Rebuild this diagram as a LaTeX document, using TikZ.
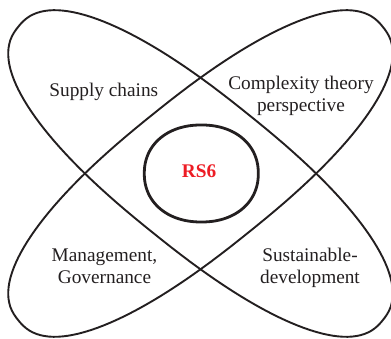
\documentclass[tikz,border=0pt]{standalone}
\usepackage{fontspec}
\setmainfont{Liberation Serif}
\definecolor{ink}{RGB}{35,31,32}
\definecolor{rsred}{RGB}{237,28,36}
\begin{document}
\begin{tikzpicture}[x=1pt,y=1pt,
  petal/.style={draw=ink, line width=1.9pt, line join=round},
  core/.style={draw=ink, line width=2.8pt, line join=round},
  lbl/.style={text=ink, font=\fontsize{19.3}{22}\selectfont, align=center, inner sep=0pt},
  hub/.style={text=rsred, font=\fontsize{19.3}{22}\selectfont\bfseries, inner sep=0pt}]
\useasboundingbox (0,0) rectangle (391,339);
\coordinate (c) at (200.5,165.5);
% two blunt-ended petals (superellipses)
\draw[petal, shift={(c)}, rotate=-38.8]
  plot[domain=1.25:358.75, samples=144, variable=\t]
  ({234*sign(cos(\t))*abs(cos(\t))^(0.851)}, {76*sign(sin(\t))*abs(sin(\t))^(0.851)}) -- cycle;
\draw[petal, shift={(c)}, rotate=38.8]
  plot[domain=1.25:358.75, samples=144, variable=\t]
  ({234*sign(cos(\t))*abs(cos(\t))^(0.851)}, {76*sign(sin(\t))*abs(sin(\t))^(0.851)}) -- cycle;
% central ring
\draw[core, shift={(201.3,165.5)}]
  plot[domain=1.25:358.75, samples=144, variable=\t]
  ({57*sign(cos(\t))*abs(cos(\t))^(0.93)}, {48.5*sign(sin(\t))*abs(sin(\t))^(0.93)}) -- cycle;
\node[lbl, anchor=base] (sc) at (103.8,242) {Supply chains};
\node[lbl] (ct) at (301,242.7) {Complexity theory\\perspective};
\node[lbl] (mg) at (104.5,72.9) {Management,\\Governance};
\node[lbl] (sd) at (310,71) {Sustainable-\\development};
\node[hub, anchor=base] (rs) at (199,161.3) {RS6};
\end{tikzpicture}
\end{document}
